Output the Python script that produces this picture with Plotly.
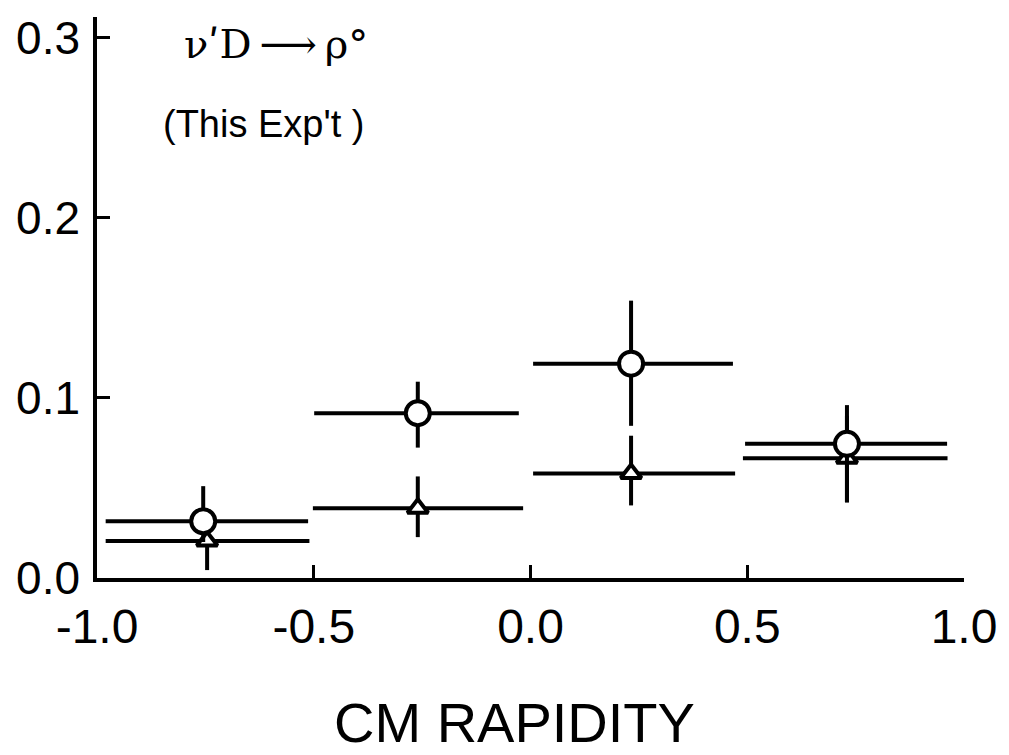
import plotly.graph_objects as go

# --- data ---
# open circles
circ_x = [-0.755, -0.26, 0.232, 0.730]
circ_y = [0.0315, 0.0915, 0.119, 0.0745]
circ_xlo = [-0.980, -0.499, 0.006, 0.495]
circ_xhi = [-0.513, -0.027, 0.467, 0.961]
circ_ylo = [0.020, 0.0724, 0.0845, 0.042]
circ_yhi = [0.051, 0.109, 0.154, 0.096]

# open triangles
tri_x = [-0.746, -0.26, 0.232, 0.730]
tri_y = [0.0205, 0.0387, 0.058, 0.0665]
tri_xlo = [-0.980, -0.502, 0.006, 0.490]
tri_xhi = [-0.510, -0.017, 0.472, 0.962]
tri_ylo = [0.0044, 0.0227, 0.0403, 0.042]
tri_yhi = [0.030, 0.0564, 0.079, 0.090]

x_ticks = [-1.0, -0.5, 0.0, 0.5, 1.0]
x_ticktext = ["-1.0", "-0.5", "0.0", "0.5", "1.0"]
y_ticks = [0.0, 0.1, 0.2, 0.3]
y_ticktext = ["0.0", "0.1", "0.2", "0.3"]

TICKFONT = "Liberation Sans"
TEXTFONT = "Liberation Sans"
LW = 4


def series(xs, ys, xlo, xhi, ylo, yhi, symbol, size):
    return go.Scatter(
        x=xs, y=ys, mode="markers",
        marker=dict(symbol=symbol, size=size, color="white",
                    line=dict(color="black", width=4)),
        error_x=dict(type="data", symmetric=False,
                     array=[h - x for h, x in zip(xhi, xs)],
                     arrayminus=[x - l for l, x in zip(xlo, xs)],
                     color="black", thickness=LW, width=0),
        error_y=dict(type="data", symmetric=False,
                     array=[h - y for h, y in zip(yhi, ys)],
                     arrayminus=[y - l for l, y in zip(ylo, ys)],
                     color="black", thickness=LW, width=0),
        showlegend=False, cliponaxis=False,
    )


fig = go.Figure()
fig.add_trace(series(tri_x, tri_y, tri_xlo, tri_xhi, tri_ylo, tri_yhi, "triangle-up", 18))
fig.add_trace(series(circ_x, circ_y, circ_xlo, circ_xhi, circ_ylo, circ_yhi, "circle", 24))

fig.update_layout(
    width=1009, height=755,
    margin=dict(l=97, r=45, t=12, b=177),
    paper_bgcolor="white", plot_bgcolor="white",
    font=dict(family=TICKFONT, color="black"),
    xaxis=dict(range=[-1.0, 1.0], tickvals=x_ticks, ticktext=x_ticktext,
               ticks="inside", ticklen=13, tickwidth=3, tickcolor="black",
               showline=True, linecolor="black", linewidth=3.5,
               showgrid=False, zeroline=False, mirror=False,
               tickfont=dict(size=48), ticklabelstandoff=4),
    yaxis=dict(range=[0.0, 0.3115], tickvals=y_ticks, ticktext=y_ticktext,
               ticks="inside", ticklen=13, tickwidth=3, tickcolor="black",
               showline=True, linecolor="black", linewidth=3.5,
               showgrid=False, zeroline=False,
               tickfont=dict(size=46), ticklabelstandoff=4),
    annotations=[
        dict(text="ν\u02B9D\u2009⟶\u2009ρ°", x=0.206, y=0.952, xref="paper", yref="paper",
             xanchor="center", yanchor="middle", showarrow=False,
             font=dict(size=40, family="DejaVu Serif")),
        dict(text="(This Exp't )", x=0.193, y=0.809, xref="paper", yref="paper",
             xanchor="center", yanchor="middle", showarrow=False,
             font=dict(size=38, family=TEXTFONT)),
        dict(text="CM RAPIDITY", x=0.481, y=-0.258, xref="paper", yref="paper",
             xanchor="center", yanchor="middle", showarrow=False,
             font=dict(size=56, family=TEXTFONT)),
    ],
)

fig.write_html("out.html")
